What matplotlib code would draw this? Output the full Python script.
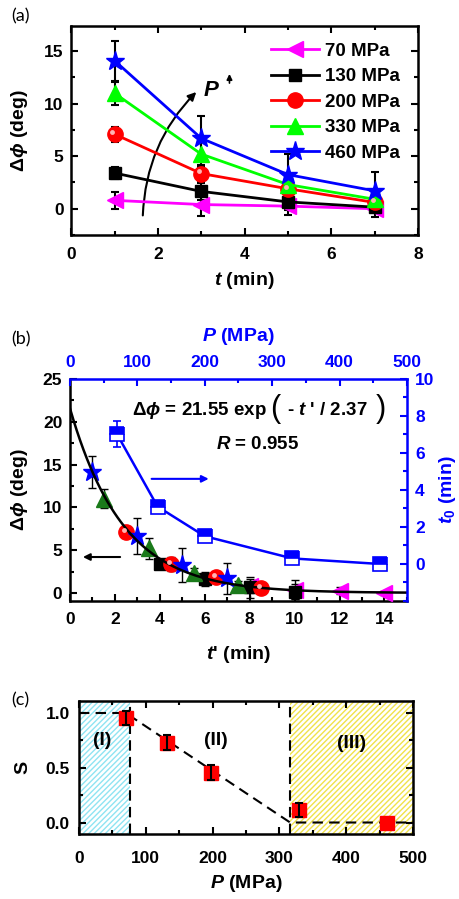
import numpy as np
import matplotlib
matplotlib.use('Agg')
import matplotlib.pyplot as plt
from matplotlib.ticker import MultipleLocator
from matplotlib.transforms import ScaledTranslation

plt.rcParams['font.family'] = ['Liberation Sans', 'DejaVu Sans']
plt.rcParams['font.weight'] = 'bold'
plt.rcParams['axes.labelweight'] = 'bold'
plt.rcParams['mathtext.fontset'] = 'custom'
plt.rcParams['mathtext.rm'] = 'Liberation Sans:bold'
plt.rcParams['mathtext.bf'] = 'Liberation Sans:bold'
plt.rcParams['mathtext.it'] = 'Liberation Sans:italic:bold'
plt.rcParams['hatch.linewidth'] = 1.0

# annealing time (min) and relaxation of the tilt angle for each pressure
t = [1, 3, 5, 7]
pressures = [70, 130, 200, 330, 460]
dphi_70 = [0.8, 0.4, 0.25, 0.0]
dphi_130 = [3.4, 1.65, 0.65, 0.15]
dphi_200 = [7.1, 3.35, 1.9, 0.6]
dphi_330 = [11.0, 5.2, 2.3, 0.9]
dphi_460 = [14.1, 6.7, 3.25, 1.7]
err_70 = [0.8, 1.1, 0.4, 0.25]
err_130 = [0.6, 0.8, 1.2, 0.9]
err_200 = [0.7, 0.8, 0.6, 0.4]
err_330 = [1.1, 1.2, 0.6, 0.5]
err_460 = [1.9, 2.1, 2.0, 1.8]

# time shift used to build the master curve, and fitted t0 (min) vs pressure
t_shift = [7.0, 3.0, 1.5, 0.5, 0.0]
t0 = [7.0, 3.1, 1.5, 0.3, 0.0]
t0_err = [0.7, 0.2, 0.15, 0.15, 0.1]

# fit parameters
A_fit = 21.55
tau_fit = 2.37

# order parameter S vs pressure
P_s = [70, 132, 198, 329, 461]
S = [0.955, 0.73, 0.455, 0.115, 0.0]
S_err = [0.065, 0.065, 0.07, 0.065, 0.0]
guide_P = [0, 70, 316, 500]
guide_S = [1.0, 1.0, 0.0, 0.0]

series = [
    (dphi_70, err_70, '<', 'magenta', 'magenta', 11),
    (dphi_130, err_130, 's', 'black', 'black', 9),
    (dphi_200, err_200, 'o', 'red', 'red', 11),
    (dphi_330, err_330, '^', '#00ff00', '#1a7a1a', 11),
    (dphi_460, err_460, '*', 'blue', 'blue', 14),
]

fig = plt.figure(figsize=(4.59, 8.99), dpi=100)


def style_ticks(ax, color='black', xpad=8, ypad=5.5, **kw):
    ax.tick_params(which='both', direction='in', colors=color, labelsize=12.5,
                   width=1.5, **kw)
    ax.tick_params(which='major', length=5)
    ax.tick_params(which='minor', length=3)
    ax.tick_params(axis='x', pad=xpad)
    ax.tick_params(axis='y', pad=ypad)


def highlight(ax, x, y):
    off = ax.transData + ScaledTranslation(-1.5 / 72, 1.5 / 72, fig.dpi_scale_trans)
    ax.plot(x, y, 'o', ms=3.5, color='#ffb3b3', mec='none', transform=off, zorder=6)


# ---------------- (a) ----------------
ax = fig.add_axes([0.155, 0.7386, 0.756, 0.2325])
for (vals, err, m, c, c2, ms), p in zip(series, pressures):
    ax.errorbar(t, vals, yerr=err, fmt='none', ecolor='black', elinewidth=1.5,
                capsize=3, capthick=1.5, zorder=3)
    ax.plot(t, vals, '-', color=c, lw=2, marker=m, ms=ms, mfc=c, mec=c,
            label='%d MPa' % p, zorder=4)
    if m == 'o':
        highlight(ax, t, vals)
ax.set_xlim(0, 8)
ax.set_ylim(-2.5, 17.4)
ax.xaxis.set_major_locator(MultipleLocator(2))
ax.xaxis.set_minor_locator(MultipleLocator(1))
ax.yaxis.set_major_locator(MultipleLocator(5))
ax.yaxis.set_minor_locator(MultipleLocator(2.5))
style_ticks(ax, xpad=8.5, top=True, right=True)
for s in ax.spines.values():
    s.set_linewidth(1.8)
ax.set_xlabel(r'$t$ (min)', fontsize=14, labelpad=6)
ax.set_ylabel(r'$\Delta\phi$ (deg)', fontsize=14, labelpad=10)
leg = ax.legend(loc='upper right', bbox_to_anchor=(0.98, 0.975), frameon=False,
                fontsize=13.5, handlelength=2.6, handletextpad=0.3,
                labelspacing=0.45, borderaxespad=0.2)
ax.annotate('', xy=(2.93, 11.3), xytext=(1.65, -0.9),
            arrowprops=dict(arrowstyle='-|>', color='black', lw=1.5,
                            connectionstyle='arc3,rad=-0.2', mutation_scale=12))
ax.text(3.05, 11.3, r'$P$', fontsize=16, va='center', ha='left')
ax.annotate('', xy=(3.65, 13.1), xytext=(3.65, 11.7),
            arrowprops=dict(arrowstyle='-|>', color='black', lw=1.2, mutation_scale=8))
fig.text(0.025, 0.982, '(a)', fontsize=13, fontweight='normal', family='Lato',
         va='center')

# ---------------- (b) ----------------
pos_b = [0.1525, 0.3315, 0.734, 0.247]
axb = fig.add_axes(pos_b)
for (vals, err, m, c, c2, ms), shift in zip(series, t_shift):
    tp = [v + shift for v in t]
    eb = axb.errorbar(tp, vals, yerr=err, fmt='none', ecolor='black',
                      elinewidth=1.0, capsize=3, capthick=1.0, zorder=3)
    if m == 's':
        for lc in eb[2]:
            lc.set_linestyle((0, (2, 4)))
    axb.plot(tp, vals, ls='none', marker=m, ms=ms, mfc=c2, mec=c2, zorder=4)
    if m == 'o':
        highlight(axb, tp, vals)
tt = np.linspace(0, 15, 200)
axb.plot(tt, A_fit * np.exp(-tt / tau_fit), color='black', lw=1.8, zorder=5)
axb.set_xlim(0, 15)
axb.set_ylim(-0.94, 25)
axb.xaxis.set_major_locator(MultipleLocator(2))
axb.xaxis.set_minor_locator(MultipleLocator(1))
axb.yaxis.set_major_locator(MultipleLocator(5))
axb.yaxis.set_minor_locator(MultipleLocator(2.5))
style_ticks(axb, xpad=8)
axb.spines['top'].set_visible(False)
axb.spines['right'].set_visible(False)
axb.spines['left'].set_linewidth(1.8)
axb.spines['bottom'].set_linewidth(1.8)
axb.set_xlabel(r"$t$' (min)", fontsize=14, labelpad=12)
axb.set_ylabel(r'$\Delta\phi$ (deg)', fontsize=14, labelpad=9)

axp = fig.add_axes(pos_b)
axp.patch.set_visible(False)
axp.errorbar(pressures, t0, yerr=t0_err, fmt='none', ecolor='blue',
             elinewidth=1.2, capsize=3, capthick=1.2, zorder=3)
axp.plot(pressures, t0, '-', color='blue', lw=1.8, zorder=3)
axp.plot(pressures, t0, ls='none', marker='s', ms=10, fillstyle='top',
         markerfacecolor='blue', markerfacecoloralt='white',
         markeredgecolor='blue', markeredgewidth=1.2, zorder=4)
axp.set_xlim(0, 500)
axp.set_ylim(-2.0, 10)
axp.xaxis.tick_top()
axp.xaxis.set_label_position('top')
axp.yaxis.tick_right()
axp.yaxis.set_label_position('right')
axp.xaxis.set_major_locator(MultipleLocator(100))
axp.xaxis.set_minor_locator(MultipleLocator(50))
axp.yaxis.set_major_locator(MultipleLocator(2))
axp.yaxis.set_minor_locator(MultipleLocator(1))
style_ticks(axp, color='blue', xpad=6.5, ypad=6)
axp.tick_params(axis='both', labelcolor='blue')
axp.set_yticks([0, 2, 4, 6, 8, 10])
axp.spines['left'].set_visible(False)
axp.spines['bottom'].set_visible(False)
axp.spines['top'].set_color('blue')
axp.spines['right'].set_color('blue')
axp.spines['top'].set_linewidth(1.8)
axp.spines['right'].set_linewidth(1.8)
axp.set_xlabel(r'$P$ (MPa)', fontsize=14, color='blue', labelpad=10)
axp.set_ylabel(r'$t_0$ (min)', fontsize=14, color='blue', labelpad=2)

axb.text(0.183, 0.86, r'$\Delta\phi$ = 21.55 exp', transform=axb.transAxes,
         fontsize=13.5, ha='left', va='center')
axb.text(0.608, 0.865, '(', transform=axb.transAxes, fontsize=22, ha='center',
         va='center', fontweight='normal')
axb.text(0.645, 0.86, r"- $t$ ' / 2.37", transform=axb.transAxes,
         fontsize=13.5, ha='left', va='center')
axb.text(0.922, 0.865, ')', transform=axb.transAxes, fontsize=22, ha='center',
         va='center', fontweight='normal')
axb.text(0.556, 0.706, r'$R$ = 0.955', transform=axb.transAxes,
         fontsize=13.5, ha='center', va='center')
axb.annotate('', xy=(0.42, 0.55), xytext=(0.234, 0.55), xycoords='axes fraction',
             arrowprops=dict(arrowstyle='-|>', color='blue', lw=1.5, mutation_scale=10))
axb.annotate('', xy=(0.03, 0.198), xytext=(0.157, 0.198), xycoords='axes fraction',
             arrowprops=dict(arrowstyle='-|>', color='black', lw=1.5, mutation_scale=10))
fig.text(0.025, 0.622, '(b)', fontsize=13, fontweight='normal', family='Lato',
         va='center')

# ---------------- (c) ----------------
axc = fig.add_axes([0.172, 0.0723, 0.728, 0.148])
axc.axvspan(0, 76, facecolor='white', edgecolor='#8fe4f2', hatch='//////', lw=0,
            zorder=0)
axc.axvspan(316, 500, facecolor='white', edgecolor='#f0e24a', hatch='//////', lw=0,
            zorder=0)
axc.axvline(76, color='black', ls=(0, (5, 3)), lw=1.5, zorder=1)
axc.axvline(316, color='black', ls=(0, (5, 3)), lw=1.5, zorder=1)
axc.plot(guide_P, guide_S, color='black', ls=(0, (5, 3)), lw=1.5, zorder=2)
axc.plot(P_s, S, 's', color='red', ms=10, zorder=3)
axc.errorbar(P_s[:4], S[:4], yerr=S_err[:4], fmt='none', ecolor='black',
             elinewidth=1.5, capsize=3, capthick=1.5, zorder=4)
axc.text(35, 0.745, '(I)', fontsize=14, ha='center', va='center')
axc.text(205, 0.745, '(II)', fontsize=14, ha='center', va='center')
axc.text(408, 0.725, '(III)', fontsize=14, ha='center', va='center')
axc.set_xlim(0, 500)
axc.set_ylim(-0.105, 1.11)
axc.xaxis.set_major_locator(MultipleLocator(100))
axc.xaxis.set_minor_locator(MultipleLocator(50))
axc.yaxis.set_major_locator(MultipleLocator(0.5))
axc.yaxis.set_minor_locator(MultipleLocator(0.25))
style_ticks(axc, xpad=12, ypad=6.5, top=True, right=True)
for s in axc.spines.values():
    s.set_linewidth(1.8)
axc.set_xlabel(r'$P$ (MPa)', fontsize=14, labelpad=5.5)
axc.set_ylabel('S', fontsize=14, labelpad=10)
fig.text(0.025, 0.221, '(c)', fontsize=13, fontweight='normal', family='Lato',
         va='center')

fig.savefig('out.png', dpi=100)
